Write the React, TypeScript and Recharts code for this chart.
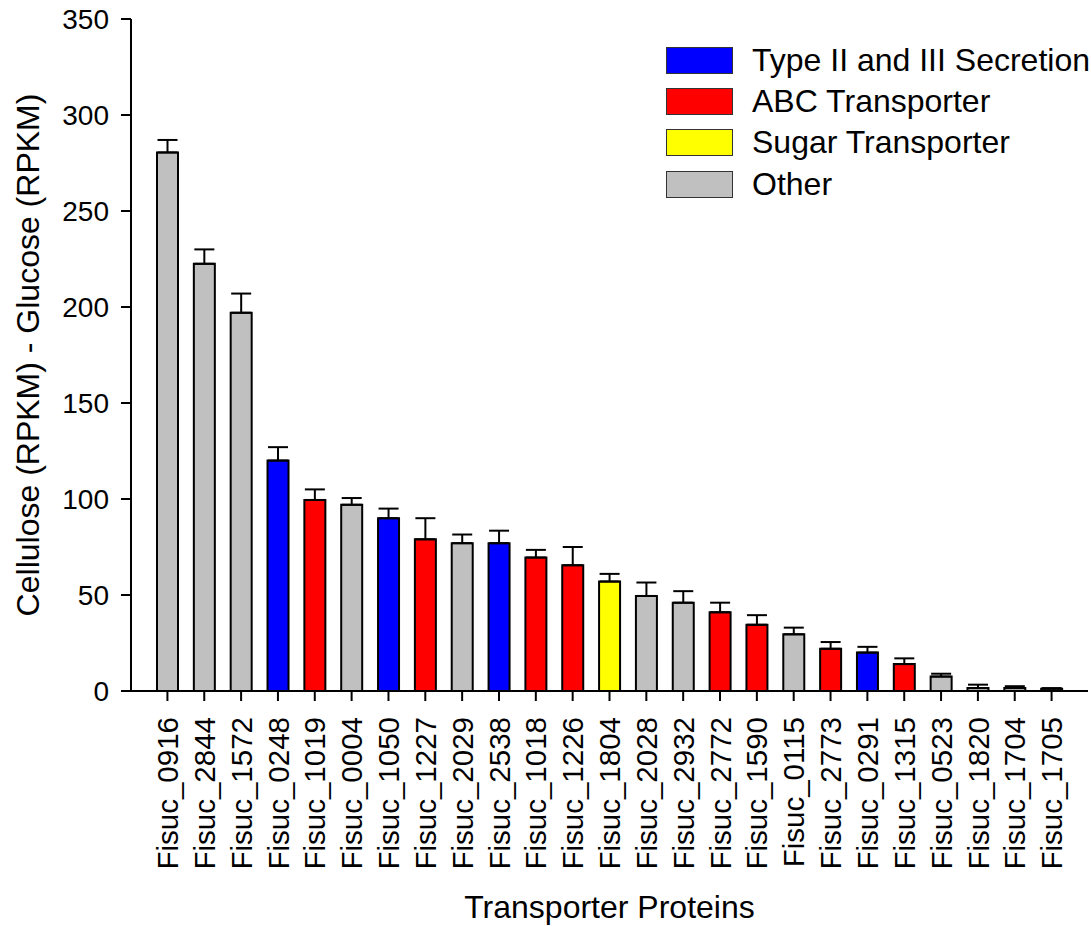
import { BarChart, Bar, XAxis, YAxis, Cell, ErrorBar, Legend } from 'recharts';

const FONT = '"Liberation Sans", Arial, sans-serif';

const proteins = [
  'Fisuc_0916', 'Fisuc_2844', 'Fisuc_1572', 'Fisuc_0248', 'Fisuc_1019',
  'Fisuc_0004', 'Fisuc_1050', 'Fisuc_1227', 'Fisuc_2029', 'Fisuc_2538',
  'Fisuc_1018', 'Fisuc_1226', 'Fisuc_1804', 'Fisuc_2028', 'Fisuc_2932',
  'Fisuc_2772', 'Fisuc_1590', 'Fisuc_0115', 'Fisuc_2773', 'Fisuc_0291',
  'Fisuc_1315', 'Fisuc_0523', 'Fisuc_1820', 'Fisuc_1704', 'Fisuc_1705',
];

// cellulose minus glucose, RPKM
const diffRpkm = [
  280.5, 222.5, 197, 120, 99.5, 97, 90, 79, 77, 77,
  69.5, 65.5, 57, 49.5, 46, 41, 34.5, 29.5, 22, 20,
  14, 7.5, 1.5, 1.5, 1.2,
];

const stdErr = [
  6.5, 7.5, 10, 7, 5.5, 3.5, 5, 11, 4.5, 6.5,
  4, 9.5, 4, 7, 6, 5, 5, 3.5, 3.5, 3,
  3, 1.5, 1.8, 1, 0.3,
];

// index into familyNames / familyColors
const families = [
  3, 3, 3, 0, 1, 3, 0, 1, 3, 0,
  1, 1, 2, 3, 3, 1, 1, 3, 1, 0,
  1, 3, 3, 3, 3,
];

const familyNames = ['Type II and III Secretion', 'ABC Transporter', 'Sugar Transporter', 'Other'];
const familyColors = ['#0000FF', '#FF0000', '#FFFF00', '#C0C0C0'];

const yTicks = [0, 50, 100, 150, 200, 250, 300, 350];

const data = proteins.map((name, i) => ({
  name,
  value: diffRpkm[i],
  err: [0, stdErr[i]],
  family: families[i],
}));

const ProteinTick = ({ x, y, payload }: any) => (
  <g transform={`translate(${x},${y})`}>
    <text
      transform="rotate(-90)"
      textAnchor="end"
      dy="0.36em"
      fontSize={29.5}
      fontFamily={FONT}
      fill="#000"
    >
      {payload.value}
    </text>
  </g>
);

const YTitle = ({ viewBox }: any) => {
  const cx = viewBox.x + 27;
  const cy = viewBox.y + viewBox.height / 2;
  return (
    <text
      x={cx}
      y={cy}
      transform={`rotate(-90, ${cx}, ${cy})`}
      textAnchor="middle"
      dy="0.36em"
      fontSize={32}
      fontFamily={FONT}
      fill="#000"
    >
      Cellulose (RPKM) - Glucose (RPKM)
    </text>
  );
};

const FamilyLegend = () => (
  <div style={{ fontFamily: FONT, fontSize: 32, color: '#000', whiteSpace: 'nowrap' }}>
    {familyNames.map((n, i) => (
      <div key={n} style={{ display: 'flex', alignItems: 'center', height: 41.3 }}>
        <span
          style={{
            display: 'inline-block',
            width: 67,
            height: 27,
            boxSizing: 'border-box',
            background: familyColors[i],
            border: '1.5px solid #333',
          }}
        />
        <span style={{ marginLeft: 19 }}>{n}</span>
      </div>
    ))}
  </div>
);

export default function App() {
  return (
    <div style={{ position: 'absolute', left: 0, top: 0, width: 1091, height: 926, background: '#fff', overflow: 'hidden' }}>
      <BarChart
        width={1091}
        height={926}
        data={data}
        margin={{ top: 19, right: 3, bottom: 0, left: 0 }}
      >
        <XAxis
          dataKey="name"
          height={235}
          padding={{ left: 18, right: 18 }}
          interval={0}
          tickSize={10}
          tickMargin={16}
          axisLine={{ stroke: '#000', strokeWidth: 2 }}
          tickLine={{ stroke: '#000', strokeWidth: 2 }}
          tick={<ProteinTick />}
          label={{
            value: 'Transporter Proteins',
            position: 'insideBottom',
            offset: 8,
            style: { fontSize: 32, fontFamily: FONT, fill: '#000' },
          }}
        />
        <XAxis
          xAxisId="top"
          dataKey="name"
          orientation="top"
          height={0}
          tick={false}
          tickLine={false}
          axisLine={{ stroke: '#000', strokeWidth: 2 }}
        />
        <YAxis
          width={131}
          domain={[0, 350]}
          ticks={yTicks}
          interval={0}
          tickSize={10}
          tickMargin={12}
          axisLine={{ stroke: '#000', strokeWidth: 2 }}
          tickLine={{ stroke: '#000', strokeWidth: 2 }}
          tick={{ fontSize: 28, fontFamily: FONT, fill: '#000' }}
          label={<YTitle />}
        />
        <YAxis
          yAxisId="right"
          orientation="right"
          width={0}
          domain={[0, 350]}
          tick={false}
          tickLine={false}
          axisLine={{ stroke: '#000', strokeWidth: 2 }}
        />
        <Legend
          layout="vertical"
          align="center"
          verticalAlign="middle"
          content={<FamilyLegend />}
          wrapperStyle={{ top: 39.5, left: 666, width: 425, bottom: 'auto', right: 'auto' }}
        />
        <Bar dataKey="value" barSize={21} stroke="#000" strokeWidth={2} isAnimationActive={false}>
          {data.map((d) => (
            <Cell key={d.name} fill={familyColors[d.family]} />
          ))}
          <ErrorBar dataKey="err" direction="y" width={10} stroke="#000" strokeWidth={2} isAnimationActive={false} />
        </Bar>
      </BarChart>
    </div>
  );
}
